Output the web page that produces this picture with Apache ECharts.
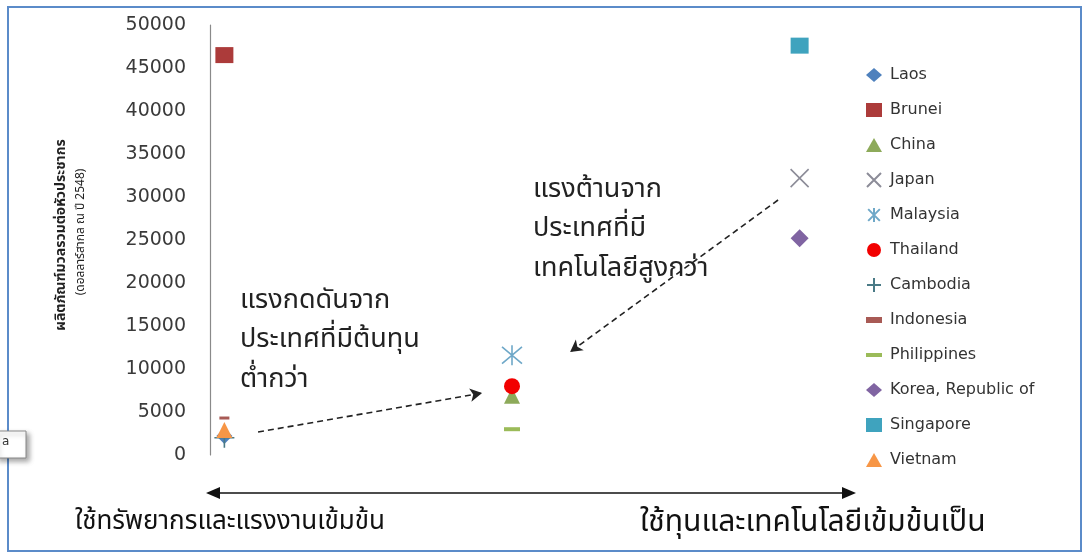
<!DOCTYPE html>
<html>
<head>
<meta charset="utf-8">
<script src="https://cdn.jsdelivr.net/npm/echarts@6/dist/echarts.min.js"></script>
<style>
html,body{margin:0;padding:0;background:#fff;}
#c{width:1088px;height:555px;}
</style>
</head>
<body>
<div id="c"></div>
<script>
// ---- data ----
const countries = ['Laos','Brunei','China','Japan','Malaysia','Thailand','Cambodia','Indonesia','Philippines','Korea, Republic of','Singapore','Vietnam'];
const groupX = [1, 1, 2, 3, 2, 2, 1, 1, 2, 3, 3, 1];
const gdpPerCapita = [2200, 46500, 6900, 32200, 11600, 8000, 2000, 4300, 3000, 25200, 47600, 2900];
const yTicks = [0, 5000, 10000, 15000, 20000, 25000, 30000, 35000, 40000, 45000, 50000];
const arrowLow = [[1.117, 2670], [1.896, 7200]];
const arrowHigh = [[2.925, 29650], [2.202, 11980]];

// ---- styles ----
const X_PATH = 'path://M0,0L10,10M10,0L0,10';
const STAR_PATH = 'path://M0,0L10,10M10,0L0,10M5,-1L5,11';
const PLUS_PATH = 'path://M5,0L5,10M0,5L10,5';
const styles = [
  {symbol:'diamond', size:16, color:'#4F81BD'},
  {symbol:'rect', size:[18,16], color:'#AC3B3A'},
  {symbol:'triangle', size:16, color:'#8DAA5A'},
  {symbol:X_PATH, size:18, stroke:'#8C8C98'},
  {symbol:STAR_PATH, size:20, stroke:'#6FA8C8'},
  {symbol:'circle', size:16, color:'#F20000'},
  {symbol:PLUS_PATH, size:20, stroke:'#4A7A86'},
  {symbol:'rect', size:[10,3], color:'#A85A55', icon:'path://M0,0L8,0L8,3L0,3Z'},
  {symbol:'rect', size:[16,4], color:'#9BBB59', icon:'path://M0,0L14,0L14,3.5L0,3.5Z'},
  {symbol:'diamond', size:18, color:'#8064A2'},
  {symbol:'rect', size:[18,16], color:'#3FA3BE'},
  {symbol:'triangle', size:16, color:'#F79646'}
];

const thaiFont = '"Noto Sans Thai","Loma","Garuda","Tlwg Typo","DejaVu Sans",sans-serif';

const series = countries.map((name, i) => {
  const s = styles[i];
  const itemStyle = s.stroke
    ? {color: 'rgba(0,0,0,0)', borderColor: s.stroke, borderWidth: 1.6, opacity: 1}
    : {color: s.color, opacity: 1};
  return {
    name: name,
    type: 'scatter',
    symbol: s.symbol,
    symbolSize: s.size,
    itemStyle: itemStyle,
    data: [[groupX[i], gdpPerCapita[i]]],
    z: 3 + i
  };
});

series.push({
  name: 'arrows',
  type: 'scatter',
  data: [],
  silent: true,
  markLine: {
    silent: true,
    symbol: ['none', 'arrow'],
    symbolSize: [10, 12],
    label: {show: false},
    lineStyle: {type: [6, 4], color: '#222', width: 1.6},
    data: [
      [{coord: arrowLow[0]}, {coord: arrowLow[1]}],
      [{coord: arrowHigh[0]}, {coord: arrowHigh[1]}]
    ]
  }
});

const legendData = countries.map((name, i) => {
  const item = {name: name};
  if (styles[i].icon) item.icon = styles[i].icon;
  return item;
});

const chart = echarts.init(document.getElementById('c'), null, {renderer: 'canvas'});
chart.setOption({
  animation: false,
  backgroundColor: '#fff',
  grid: {left: 210, right: 274, top: 25, bottom: 100},
  xAxis: {type: 'value', min: 0.95, max: 3.05, show: false},
  yAxis: {
    type: 'value', min: yTicks[0], max: yTicks[yTicks.length - 1], interval: 5000,
    axisLine: {show: true, lineStyle: {color: '#8A8A8A', width: 1.2}},
    axisTick: {show: false},
    splitLine: {show: false},
    axisLabel: {margin: 24, fontSize: 19, color: '#3A3A3A', fontFamily: 'DejaVu Sans', formatter: v => String(v)}
  },
  legend: {
    orient: 'vertical', left: 861, top: 62,
    itemWidth: 16, itemHeight: 14, itemGap: 19,
    data: legendData,
    itemStyle: {opacity: 1},
    textStyle: {fontSize: 16, color: '#333', fontFamily: 'DejaVu Sans', padding: [0,0,0,3]}
  },
  graphic: [
    {type: 'rect', shape: {x: 8, y: 7, width: 1073, height: 544}, style: {fill: 'none', stroke: '#5B8BC9', lineWidth: 2}, z: 1},
    {type: 'rect', shape: {x: -4, y: 431, width: 30, height: 27}, style: {fill: '#fff', stroke: '#888', lineWidth: 1, shadowBlur: 5, shadowOffsetX: 3, shadowOffsetY: 3, shadowColor: 'rgba(0,0,0,0.35)'}, z: 2},
    {type: 'text', left: 2, top: 436, style: {text: 'a', fontSize: 12, fill: '#333', fontFamily: 'DejaVu Sans'}, z: 3},
    // y axis title (rotated)
    {type: 'text', x: 62, y: 235, rotation: Math.PI / 2, style: {text: 'ผลิตภัณฑ์มวลรวมต่อหัวประชากร', fontSize: 14, fontWeight: 'bold', fill: '#222', fontFamily: thaiFont, align: 'center', verticalAlign: 'middle'}},
    {type: 'text', x: 82, y: 232, rotation: Math.PI / 2, style: {text: '(ดอลลาร์สากล ณ ปี 2548)', fontSize: 12, fill: '#222', fontFamily: thaiFont, align: 'center', verticalAlign: 'middle'}},
    // annotation texts
    {type: 'text', x: 240, y: 303, style: {text: 'แรงกดดันจาก', fontSize: 27, fill: '#222', fontFamily: thaiFont, verticalAlign: 'middle'}},
    {type: 'text', x: 240, y: 342, style: {text: 'ประเทศที่มีต้นทุน', fontSize: 27, fill: '#222', fontFamily: thaiFont, verticalAlign: 'middle'}},
    {type: 'text', x: 240, y: 382, style: {text: 'ต่ำกว่า', fontSize: 27, fill: '#222', fontFamily: thaiFont, verticalAlign: 'middle'}},
    {type: 'text', x: 533, y: 192, style: {text: 'แรงต้านจาก', fontSize: 27, fill: '#222', fontFamily: thaiFont, verticalAlign: 'middle'}},
    {type: 'text', x: 533, y: 231, style: {text: 'ประเทศที่มี', fontSize: 27, fill: '#222', fontFamily: thaiFont, verticalAlign: 'middle'}},
    {type: 'text', x: 533, y: 271, style: {text: 'เทคโนโลยีสูงกว่า', fontSize: 27, fill: '#222', fontFamily: thaiFont, verticalAlign: 'middle'}},
    // bottom double arrow
    {type: 'line', shape: {x1: 214, y1: 493, x2: 848, y2: 493}, style: {stroke: '#111', lineWidth: 1.6}},
    {type: 'polygon', shape: {points: [[206, 493], [220, 487], [220, 499]]}, style: {fill: '#111'}},
    {type: 'polygon', shape: {points: [[856, 493], [842, 487], [842, 499]]}, style: {fill: '#111'}},
    {type: 'text', x: 75, y: 524, style: {text: 'ใช้ทรัพยากรและแรงงานเข้มข้น', fontSize: 26, fill: '#111', fontFamily: thaiFont, verticalAlign: 'middle'}},
    {type: 'text', x: 640, y: 525, style: {text: 'ใช้ทุนและเทคโนโลยีเข้มข้นเป็น', fontSize: 30, fill: '#111', fontFamily: thaiFont, verticalAlign: 'middle'}}
  ],
  series: series
});
</script>
</body>
</html>
